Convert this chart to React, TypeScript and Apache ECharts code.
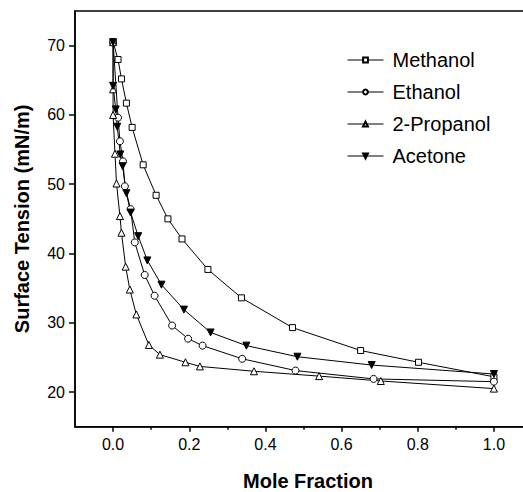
import React, { useEffect, useRef } from "react";
import * as echarts from "echarts";

const methanolX = [0, 0.013, 0.022, 0.035, 0.05, 0.079, 0.113, 0.144, 0.181, 0.249, 0.337, 0.471, 0.65, 0.802, 1.0];
const methanolY = [70.5, 68.0, 65.2, 61.7, 58.2, 52.8, 48.4, 45.0, 42.1, 37.7, 33.6, 29.3, 26.0, 24.3, 22.2];

const ethanolX = [0, 0.013, 0.018, 0.026, 0.031, 0.046, 0.057, 0.083, 0.109, 0.155, 0.197, 0.235, 0.339, 0.479, 0.684, 1.0];
const ethanolY = [70.5, 59.6, 56.2, 53.3, 49.7, 46.4, 41.6, 36.9, 33.9, 29.6, 27.7, 26.7, 24.8, 23.1, 21.9, 21.5];

const propanolX = [0, 0.0, 0.0, 0.005, 0.009, 0.018, 0.022, 0.033, 0.044, 0.061, 0.094, 0.123, 0.19, 0.228, 0.37, 0.541, 0.703, 1.0];
const propanolY = [70.5, 63.7, 60.0, 54.4, 50.1, 45.4, 43.0, 38.1, 34.8, 31.2, 26.8, 25.4, 24.3, 23.7, 23.0, 22.3, 21.6, 20.5];

const acetoneX = [0, 0.0, 0.007, 0.011, 0.019, 0.025, 0.035, 0.046, 0.066, 0.09, 0.127, 0.186, 0.256, 0.35, 0.484, 0.679, 1.0];
const acetoneY = [70.5, 64.2, 60.8, 58.3, 54.3, 52.6, 48.7, 45.9, 42.5, 39.0, 35.5, 31.9, 28.6, 26.7, 25.1, 23.9, 22.6];

const xMajorTicks = [0, 0.2, 0.4, 0.6, 0.8, 1.0];
const xMinorTicks = [0.1, 0.3, 0.5, 0.7, 0.9];
const yTicks = [20, 30, 40, 50, 60, 70];

const FONT = "Liberation Sans, Arial, sans-serif";

function pairs(xs: number[], ys: number[]) {
  return xs.map((x, i) => [x, ys[i]]);
}

export default function App() {
  const ref = useRef<HTMLDivElement>(null);
  useEffect(() => {
    if (!ref.current) return;
    const chart = echarts.init(ref.current, null, { renderer: "svg" });
    const openStyle = { color: "#fff", borderColor: "#000", borderWidth: 1 };
    const lineStyle = { color: "#000", width: 1 };
    chart.setOption({
      animation: false,
      backgroundColor: "#fff",
      grid: {
        left: 75,
        top: 11,
        width: 457,
        height: 415.7,
        outerBoundsMode: "none",
        containLabel: false,
        show: true,
        borderColor: "#000",
        borderWidth: 1.5,
        backgroundColor: "transparent",
      },
      legend: {
        orient: "vertical",
        left: 347,
        top: 50,
        padding: 0,
        itemWidth: 36,
        itemHeight: 6,
        itemGap: 12,
        lineStyle: { width: 1 },
        textStyle: { fontFamily: FONT, fontSize: 20, color: "#000", padding: [0, 0, 0, 4] },
        data: ["Methanol", "Ethanol", "2-Propanol", "Acetone"],
      },
      xAxis: [
        {
          type: "value",
          min: -0.1,
          max: 1.1,
          position: "bottom",
          name: "Mole Fraction",
          nameLocation: "middle",
          nameGap: 44,
          nameTextStyle: { fontFamily: FONT, fontSize: 20, fontWeight: "bold", color: "#000", padding: [0, 0, 0, 9] },
          axisLine: { show: true, onZero: false, lineStyle: { color: "#000", width: 1.5 } },
          axisTick: { show: true, length: 5, customValues: xMajorTicks, lineStyle: { color: "#000", width: 1.5 } },
          axisLabel: {
            customValues: xMajorTicks,
            formatter: (v: number) => v.toFixed(1),
            fontFamily: FONT,
            fontSize: 16,
            color: "#000",
            margin: 10,
          },
          splitLine: { show: false },
        },
        {
          type: "value",
          min: -0.1,
          max: 1.1,
          position: "bottom",
          axisLine: { show: false, onZero: false },
          axisTick: { show: true, length: 3, customValues: xMinorTicks, lineStyle: { color: "#000", width: 1.5 } },
          axisLabel: { show: false },
          splitLine: { show: false },
        },
      ],
      yAxis: {
        type: "value",
        min: 15,
        max: 75,
        name: "Surface Tension (mN/m)",
        nameLocation: "middle",
        nameGap: 43,
        nameTextStyle: { fontFamily: FONT, fontSize: 20, fontWeight: "bold", color: "#000" },
        axisLine: { show: true, onZero: false, lineStyle: { color: "#000", width: 1.5 } },
        axisTick: { show: true, length: 6, customValues: yTicks, lineStyle: { color: "#000", width: 1.5 } },
        axisLabel: { customValues: yTicks, fontFamily: FONT, fontSize: 16, color: "#000", margin: 10 },
        splitLine: { show: false },
      },
      series: [
        {
          name: "Methanol",
          type: "line",
          data: pairs(methanolX, methanolY),
          symbol: "rect",
          symbolSize: 6,
          itemStyle: openStyle,
          lineStyle,
        },
        {
          name: "Ethanol",
          type: "line",
          data: pairs(ethanolX, ethanolY),
          symbol: "circle",
          symbolSize: 7,
          itemStyle: openStyle,
          lineStyle,
        },
        {
          name: "2-Propanol",
          type: "line",
          data: pairs(propanolX, propanolY),
          symbol: "triangle",
          symbolSize: 7,
          itemStyle: openStyle,
          lineStyle,
        },
        {
          name: "Acetone",
          type: "line",
          data: pairs(acetoneX, acetoneY),
          symbol: "triangle",
          symbolRotate: 180,
          symbolSize: 7,
          itemStyle: { color: "#000", borderColor: "#000", borderWidth: 1 },
          lineStyle,
        },
      ],
    });
    return () => chart.dispose();
  }, []);
  return (
    <div
      ref={ref}
      style={{ position: "fixed", left: 0, top: 0, width: 523, height: 492, background: "#fff" }}
    />
  );
}
